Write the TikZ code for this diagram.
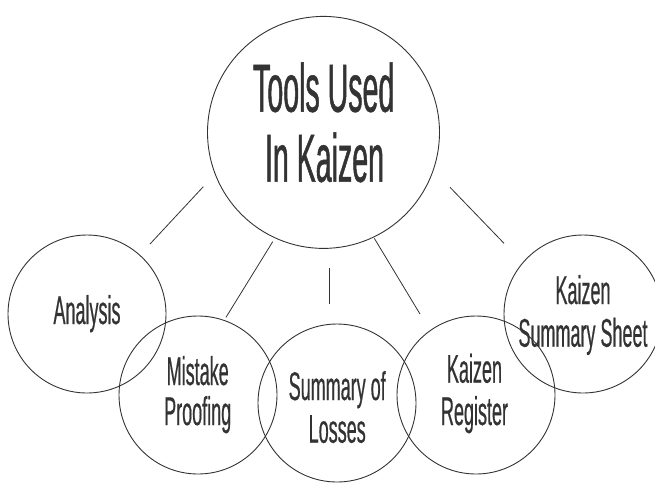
\documentclass[tikz,border=0pt]{standalone}
\usepackage{fontspec}
% condensed sans faces for the hub title and the tool names
\newfontfamily\hubfont{Liberation Sans}[FakeStretch=0.42,FakeBold=0.7]
\newfontfamily\leaffont{Liberation Sans}[FakeStretch=0.45,FakeBold=0.45]
\definecolor{ink}{HTML}{333333}
\begin{document}
\begin{tikzpicture}[x=1pt,y=-1pt,
  bubble/.style={draw=ink, line width=0.9pt, circle, minimum size=158pt, inner sep=0pt},
  hubbubble/.style={bubble, minimum size=232pt},
  leaftext/.style={text=ink, font=\leaffont\fontsize{40}{42}\selectfont, inner sep=0pt, anchor=base},
  hubtext/.style={text=ink, font=\hubfont\fontsize{68}{70}\selectfont, inner sep=0pt, anchor=base},
  link/.style={draw=ink, line width=0.8pt}]
\useasboundingbox (0,0) rectangle (655,485);

% central topic
\node[hubbubble] (hub) at (323.5,132.4) {};
\node[hubtext] (hubA) at (323.7,111.7) {Tools Used};
\node[hubtext] (hubB) at (324.5,181.7) {In Kaizen};

% surrounding tools
\node[bubble] (analysis) at (87,314) {};
\node[bubble] (mistake)  at (198,395) {};
\node[bubble] (losses)   at (337,403) {};
\node[bubble] (register) at (476,395) {};
\node[bubble] (sheet)    at (583,314) {};

\node[leaftext] (analysisA) at (87,324) {Analysis};
\node[leaftext] (mistakeA)  at (197.7,385) {Mistake};
\node[leaftext] (mistakeB)  at (197.7,425) {Proofing};
\node[leaftext] (lossesA)   at (337.2,400) {Summary of};
\node[leaftext] (lossesB)   at (337.2,442.7) {Losses};
\node[leaftext] (registerA) at (474.5,382.7) {Kaizen};
\node[leaftext] (registerB) at (474.5,425) {Register};
\node[leaftext] (sheetA)    at (583,304) {Kaizen};
\node[leaftext] (sheetB)    at (583,346.7) {Summary Sheet};

% free-standing spokes between the hub and the tools
\coordinate (s1a) at (203.3,186.7); \coordinate (s1b) at (150,244);
\coordinate (s2a) at (272.7,241.7); \coordinate (s2b) at (226,317.3);
\coordinate (s3a) at (329,268.3);   \coordinate (s3b) at (329,304);
\coordinate (s4a) at (374.3,238.3); \coordinate (s4b) at (420,314);
\coordinate (s5a) at (450,187.3);   \coordinate (s5b) at (504,243.3);
\draw[link] (s1a) -- (s1b);
\draw[link] (s2a) -- (s2b);
\draw[link] (s3a) -- (s3b);
\draw[link] (s4a) -- (s4b);
\draw[link] (s5a) -- (s5b);
\end{tikzpicture}
\end{document}
